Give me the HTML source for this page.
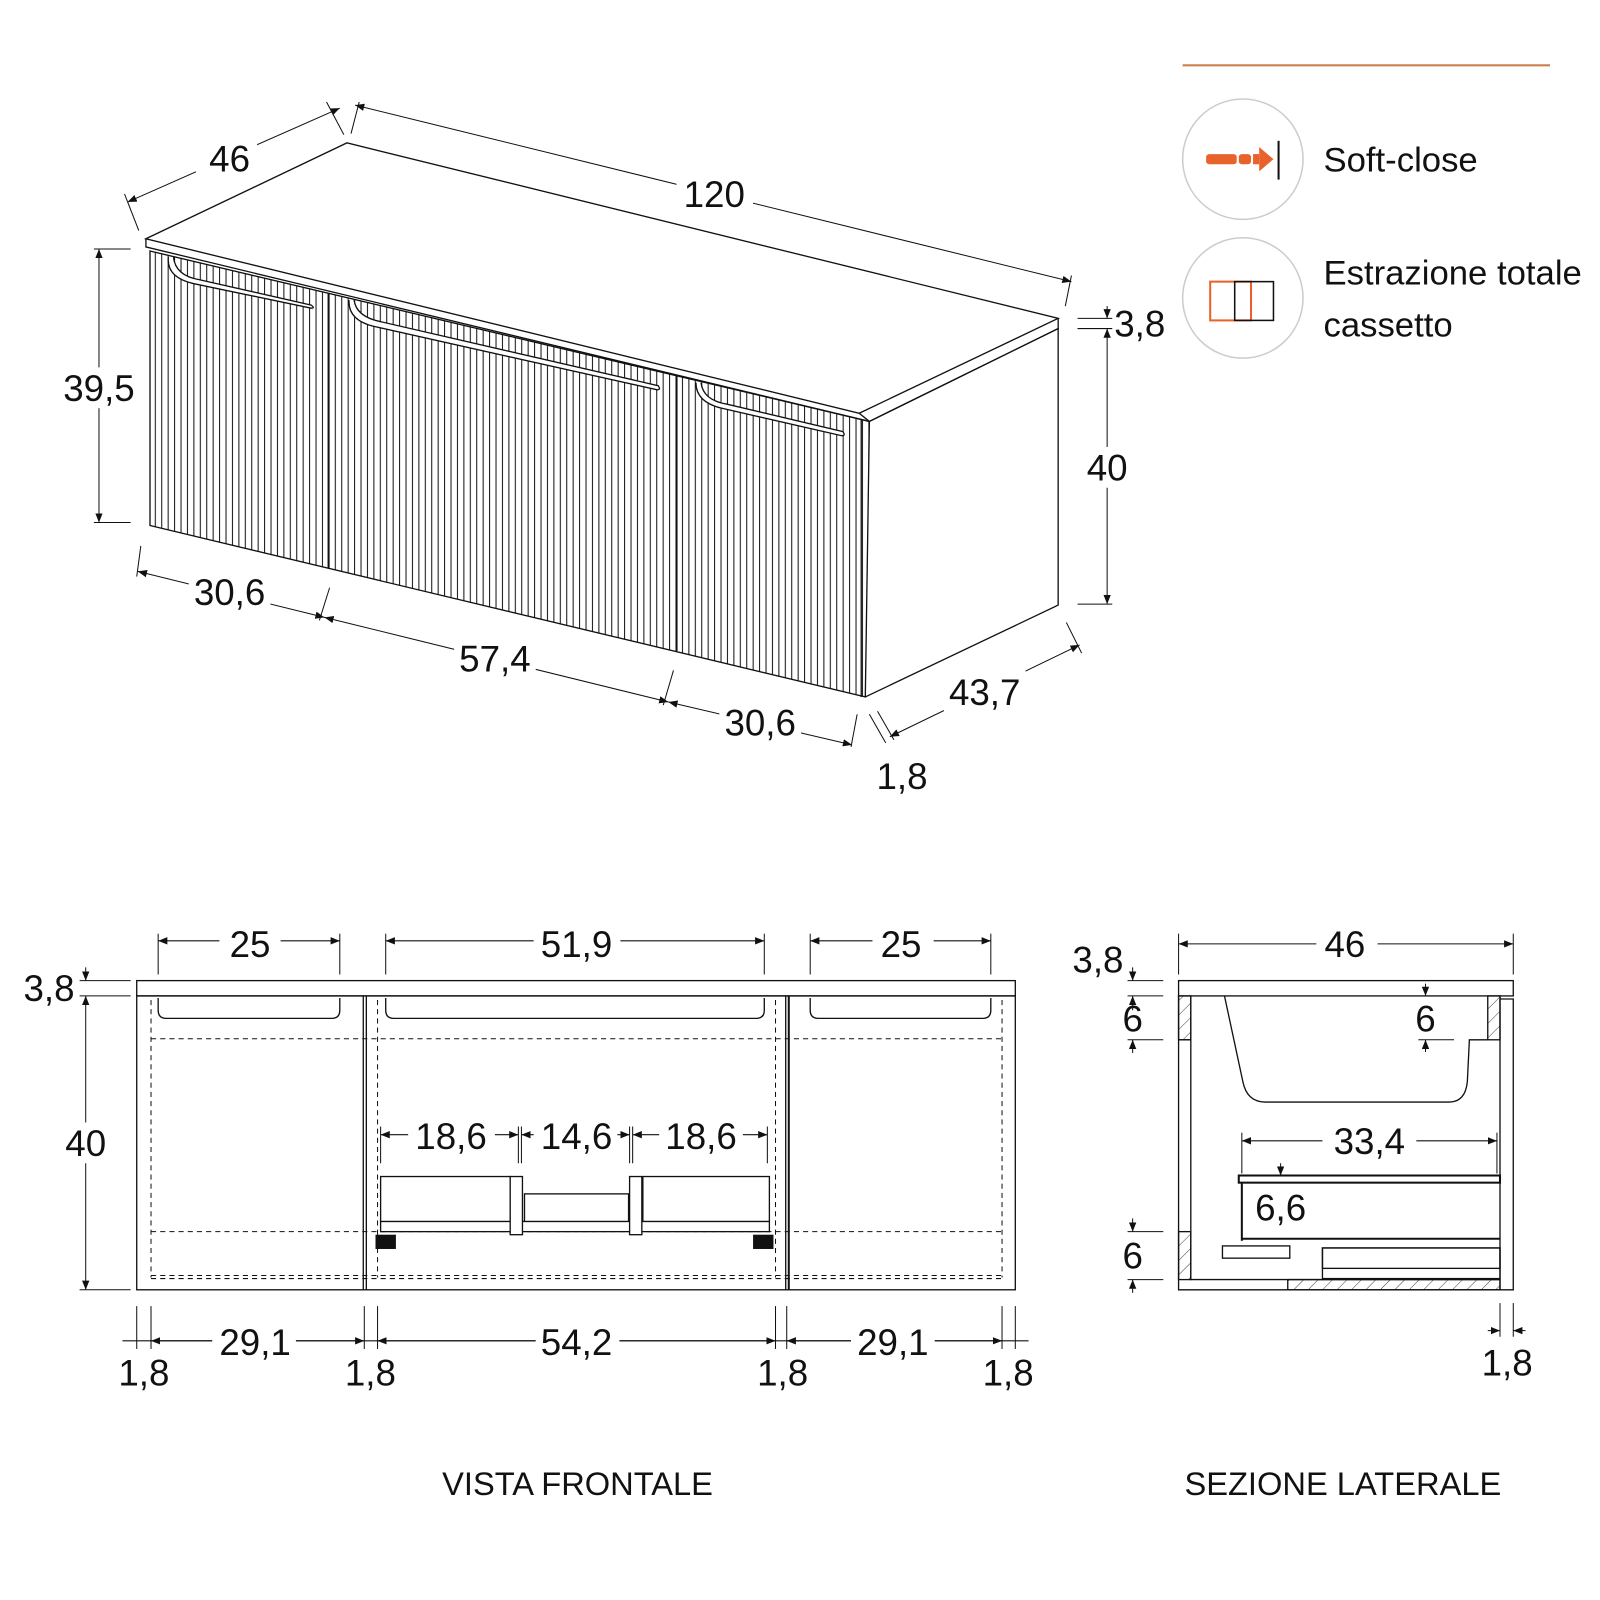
<!DOCTYPE html>
<html><head><meta charset="utf-8"><style>
html,body{margin:0;padding:0;background:#fff}
svg{display:block}
text{font-family:"Liberation Sans",sans-serif;fill:#111}
</style></head><body>
<svg width="1600" height="1600" viewBox="0 0 1568 1568" xmlns="http://www.w3.org/2000/svg">
<defs>
<marker id="a" viewBox="0 0 10 10" refX="10" refY="5" markerWidth="9" markerHeight="9" orient="auto-start-reverse" markerUnits="userSpaceOnUse"><path d="M0,1 L10,5 L0,9 z" fill="#111"/></marker>
<pattern id="fl" width="6.3" height="10" patternUnits="userSpaceOnUse"><line x1="1" y1="0" x2="1" y2="10" stroke="#111" stroke-width="1"/></pattern>
<pattern id="hat" width="10" height="10" patternUnits="userSpaceOnUse" patternTransform="rotate(45)"><line x1="0" y1="0" x2="0" y2="10" stroke="#111" stroke-width="0.8"/></pattern>
<clipPath id="front"><polygon points="147,246 852,413 848,683 147,515"/></clipPath>
</defs>
<g fill="none" stroke="#111" stroke-width="1.3">
<polygon points="143,234 340,140 1037,312 842,405" fill="#fff"/>
<polyline points="143,234 143,242 852,413 1037,322 1037,312"/>
<line x1="842" y1="405" x2="852" y2="413"/>
<rect x="140" y="240" width="720" height="450" fill="url(#fl)" clip-path="url(#front)" stroke="none"/>
<polygon points="147,246 852,413 848,683 147,515"/>
<polyline points="852,413 1037,322 1037,593 848,683"/>
<line x1="322" y1="287" x2="322" y2="557" stroke-width="2"/>
<line x1="663" y1="368" x2="663" y2="638" stroke-width="2"/>
<line x1="844" y1="411" x2="844" y2="683"/>
<path d="M170,252 Q172,270 195,274 L305,299 Q309,302 305,302 L190,278 Q163,272 165,252" fill="#fff"/>
<path d="M347,294 Q349,310 372,315 L645,378 Q648,382 644,382 L367,320 Q341,314 342,294" fill="#fff"/>
<path d="M687,375 Q689,392 712,396 L826,423 Q829,427 825,427 L707,400 Q682,394 682,375" fill="#fff"/>
</g>
<g stroke="#111" stroke-width="1" fill="none">
<line x1="125" y1="198" x2="333" y2="106" marker-start="url(#a)" marker-end="url(#a)"/>
<line x1="122" y1="190" x2="136" y2="226"/><line x1="320" y1="100" x2="337" y2="132"/>
<line x1="348" y1="103" x2="1050" y2="276" marker-start="url(#a)" marker-end="url(#a)"/>
<line x1="352" y1="100" x2="344" y2="131"/><line x1="1050" y1="270" x2="1044" y2="300"/>
<line x1="97" y1="244" x2="97" y2="512" marker-start="url(#a)" marker-end="url(#a)"/>
<line x1="92" y1="244" x2="128" y2="244"/><line x1="92" y1="512" x2="128" y2="512"/>
<line x1="1085" y1="322" x2="1085" y2="592" marker-start="url(#a)" marker-end="url(#a)"/>
<line x1="1056" y1="312" x2="1090" y2="312"/><line x1="1056" y1="322" x2="1090" y2="322"/><line x1="1056" y1="592" x2="1090" y2="592"/>
<line x1="1085" y1="300" x2="1085" y2="312" marker-end="url(#a)"/>
<line x1="135" y1="560" x2="318" y2="605" marker-start="url(#a)" marker-end="url(#a)"/>
<line x1="318" y1="605" x2="655" y2="688" marker-start="url(#a)" marker-end="url(#a)"/>
<line x1="655" y1="688" x2="835" y2="730" marker-start="url(#a)" marker-end="url(#a)"/>
<line x1="138" y1="535" x2="134" y2="565"/><line x1="323" y1="576" x2="313" y2="608"/><line x1="660" y1="657" x2="650" y2="691"/><line x1="840" y1="700" x2="834" y2="732"/>
<line x1="872" y1="722" x2="1058" y2="632" marker-start="url(#a)" marker-end="url(#a)"/>
<line x1="1045" y1="610" x2="1060" y2="640"/><line x1="852" y1="700" x2="868" y2="728"/><line x1="860" y1="697" x2="876" y2="725"/>
</g>
<g fill="#fff" stroke="none">
<rect x="192" y="135" width="60" height="40"/><rect x="663" y="170" width="75" height="42"/>
<rect x="185" y="562" width="80" height="40"/><rect x="445" y="625" width="80" height="40"/><rect x="705" y="688" width="80" height="40"/>
<rect x="60" y="360" width="76" height="40"/><rect x="1060" y="438" width="50" height="40"/>
<rect x="925" y="655" width="80" height="42"/>
</g>
<g font-size="36" text-anchor="middle">
<text x="225" y="168">46</text><text x="700" y="203">120</text>
<text x="97" y="393">39,5</text><text x="1117" y="330">3,8</text><text x="1085" y="471">40</text>
<text x="225" y="593">30,6</text><text x="485" y="658">57,4</text><text x="745" y="721">30,6</text>
<text x="965" y="691">43,7</text><text x="884" y="773">1,8</text>
</g>
<line x1="1159" y1="64" x2="1519" y2="64" stroke="#c8804f" stroke-width="2"/>
<circle cx="1218" cy="156" r="59" fill="none" stroke="#ccc" stroke-width="1.5"/>
<circle cx="1218" cy="292" r="59" fill="none" stroke="#ccc" stroke-width="1.5"/>
<g fill="#e8622c"><rect x="1182" y="151" width="30" height="10" rx="3"/><rect x="1214" y="151" width="12" height="10" rx="3"/><rect x="1228" y="151" width="6" height="10"/><path d="M1234,144 L1248,156 L1234,168z"/></g>
<line x1="1253" y1="138" x2="1253" y2="176" stroke="#111" stroke-width="2"/>
<rect x="1186" y="276" width="40" height="38" fill="none" stroke="#e8622c" stroke-width="2"/>
<rect x="1210" y="276" width="38" height="38" fill="none" stroke="#111" stroke-width="1.5"/>
<line x1="1210" y1="276" x2="1210" y2="314" stroke="#111" stroke-dasharray="3,3"/>
<g font-size="34"><text x="1297" y="168">Soft-close</text><text x="1297" y="279">Estrazione totale</text><text x="1297" y="330">cassetto</text></g>
<g fill="none" stroke="#111" stroke-width="1.3">
<rect x="134" y="961" width="861" height="15"/>
<rect x="134" y="976" width="861" height="288"/>
<line x1="356" y1="976" x2="356" y2="1264"/><line x1="359" y1="976" x2="359" y2="1264"/>
<line x1="770" y1="976" x2="770" y2="1264"/><line x1="773" y1="976" x2="773" y2="1264" stroke-width="2"/>
<path d="M155,978 L155,990 Q155,998 163,998 L325,998 Q333,998 333,990 L333,978"/>
<path d="M378,978 L378,990 Q378,998 386,998 L741,998 Q749,998 749,990 L749,978"/>
<path d="M794,978 L794,990 Q794,998 802,998 L963,998 Q971,998 971,990 L971,978"/>
</g>
<g fill="none" stroke="#111" stroke-width="1" stroke-dasharray="5,4">
<line x1="148" y1="980" x2="148" y2="1252"/><line x1="370" y1="980" x2="370" y2="1252"/><line x1="760" y1="980" x2="760" y2="1252"/><line x1="982" y1="980" x2="982" y2="1252"/>
<line x1="148" y1="1018" x2="982" y2="1018"/><line x1="148" y1="1207" x2="982" y2="1207"/>
<line x1="148" y1="1250" x2="982" y2="1250"/><line x1="148" y1="1253" x2="982" y2="1253"/>
</g>
<g fill="#fff" stroke="#111" stroke-width="1.3">
<rect x="373" y="1197" width="381" height="10"/>
<rect x="373" y="1153" width="127" height="44"/><rect x="630" y="1153" width="124" height="44"/>
<rect x="514" y="1170" width="102" height="27"/>
<rect x="500" y="1153" width="12" height="57"/><rect x="617" y="1153" width="12" height="57"/>
</g>
<rect x="368" y="1210" width="20" height="14" fill="#111"/><rect x="738" y="1210" width="20" height="14" fill="#111"/>
<g stroke="#111" stroke-width="1" fill="none">
<line x1="155" y1="922" x2="333" y2="922" marker-start="url(#a)" marker-end="url(#a)"/><line x1="155" y1="915" x2="155" y2="955"/><line x1="333" y1="915" x2="333" y2="955"/>
<line x1="378" y1="922" x2="749" y2="922" marker-start="url(#a)" marker-end="url(#a)"/><line x1="378" y1="915" x2="378" y2="955"/><line x1="749" y1="915" x2="749" y2="955"/>
<line x1="794" y1="922" x2="971" y2="922" marker-start="url(#a)" marker-end="url(#a)"/><line x1="794" y1="915" x2="794" y2="955"/><line x1="971" y1="915" x2="971" y2="955"/>
<line x1="84" y1="976" x2="84" y2="1264" marker-start="url(#a)" marker-end="url(#a)"/>
<line x1="84" y1="948" x2="84" y2="961" marker-end="url(#a)"/>
<line x1="78" y1="961" x2="128" y2="961"/><line x1="78" y1="976" x2="128" y2="976"/><line x1="78" y1="1264" x2="128" y2="1264"/>
<line x1="120" y1="1314" x2="1008" y2="1314"/>
<line x1="134" y1="1280" x2="134" y2="1322"/><line x1="148" y1="1280" x2="148" y2="1322"/><line x1="357" y1="1280" x2="357" y2="1322"/><line x1="370" y1="1280" x2="370" y2="1322"/>
<line x1="760" y1="1280" x2="760" y2="1322"/><line x1="771" y1="1280" x2="771" y2="1322"/><line x1="982" y1="1280" x2="982" y2="1322"/><line x1="995" y1="1280" x2="995" y2="1322"/>
<line x1="148" y1="1314" x2="357" y2="1314" marker-start="url(#a)" marker-end="url(#a)"/>
<line x1="370" y1="1314" x2="760" y2="1314" marker-start="url(#a)" marker-end="url(#a)"/>
<line x1="771" y1="1314" x2="982" y2="1314" marker-start="url(#a)" marker-end="url(#a)"/>
<line x1="373" y1="1112" x2="508" y2="1112" marker-start="url(#a)" marker-end="url(#a)"/>
<line x1="511" y1="1112" x2="617" y2="1112" marker-start="url(#a)" marker-end="url(#a)"/>
<line x1="620" y1="1112" x2="752" y2="1112" marker-start="url(#a)" marker-end="url(#a)"/>
<line x1="373" y1="1104" x2="373" y2="1140"/><line x1="508" y1="1104" x2="508" y2="1140"/><line x1="511" y1="1104" x2="511" y2="1140"/><line x1="617" y1="1104" x2="617" y2="1140"/><line x1="620" y1="1104" x2="620" y2="1140"/><line x1="752" y1="1104" x2="752" y2="1140"/>
</g>
<g fill="#fff">
<rect x="215" y="905" width="60" height="40"/><rect x="523" y="905" width="85" height="40"/><rect x="855" y="905" width="60" height="40"/>
<rect x="60" y="1100" width="50" height="40"/>
<rect x="208" y="1296" width="82" height="38"/><rect x="525" y="1296" width="82" height="38"/><rect x="834" y="1296" width="82" height="38"/>
<rect x="400" y="1094" width="85" height="38"/><rect x="523" y="1094" width="82" height="38"/><rect x="646" y="1094" width="82" height="38"/>
</g>
<g font-size="36" text-anchor="middle">
<text x="245" y="938">25</text><text x="565" y="938">51,9</text><text x="883" y="938">25</text>
<text x="48" y="981">3,8</text><text x="84" y="1133">40</text>
<text x="250" y="1328">29,1</text><text x="565" y="1328">54,2</text><text x="875" y="1328">29,1</text>
<text x="141" y="1358">1,8</text><text x="363" y="1358">1,8</text><text x="767" y="1358">1,8</text><text x="988" y="1358">1,8</text>
<text x="442" y="1126">18,6</text><text x="565" y="1126">14,6</text><text x="687" y="1126">18,6</text>
</g>
<g fill="none" stroke="#111" stroke-width="1.3">
<rect x="1155" y="961" width="328" height="15"/>
<polyline points="1155,976 1155,1264 1470,1264 1470,976"/>
<polyline points="1470,979 1483,979 1483,1264 1470,1264"/>
<polyline points="1167,976 1167,1254 1470,1254"/>
<rect x="1155" y="976" width="12" height="43" fill="url(#hat)"/>
<rect x="1155" y="1207" width="12" height="47" fill="url(#hat)"/>
<rect x="1458" y="976" width="12" height="43" fill="url(#hat)"/>
<rect x="1262" y="1254" width="208" height="10" fill="url(#hat)"/>
<path d="M1200,976 L1218,1060 Q1222,1080 1240,1080 L1420,1080 Q1436,1080 1438,1060 L1440,1019 L1458,1019"/>
<line x1="1167" y1="1019" x2="1155" y2="1019"/>
<rect x="1214" y="1152" width="256" height="7" stroke-width="2"/>
<line x1="1217" y1="1159" x2="1217" y2="1216" stroke-width="2"/>
<line x1="1217" y1="1214" x2="1470" y2="1214" stroke-width="2"/>
<rect x="1198" y="1221" width="66" height="12"/>
<rect x="1296" y="1223" width="174" height="30"/>
<rect x="1296" y="1223" width="174" height="20"/>
</g>
<g stroke="#111" stroke-width="1" fill="none">
<line x1="1155" y1="925" x2="1483" y2="925" marker-start="url(#a)" marker-end="url(#a)"/><line x1="1155" y1="915" x2="1155" y2="955"/><line x1="1483" y1="915" x2="1483" y2="955"/>
<line x1="1105" y1="961" x2="1140" y2="961"/><line x1="1105" y1="976" x2="1140" y2="976"/><line x1="1105" y1="1019" x2="1140" y2="1019"/>
<line x1="1105" y1="1207" x2="1140" y2="1207"/><line x1="1105" y1="1254" x2="1140" y2="1254"/>
<line x1="1110" y1="948" x2="1110" y2="961" marker-end="url(#a)"/><line x1="1110" y1="990" x2="1110" y2="976" marker-end="url(#a)"/>
<line x1="1110" y1="1032" x2="1110" y2="1019" marker-end="url(#a)"/>
<line x1="1110" y1="1194" x2="1110" y2="1207" marker-end="url(#a)"/><line x1="1110" y1="1267" x2="1110" y2="1254" marker-end="url(#a)"/>
<line x1="1397" y1="964" x2="1397" y2="976" marker-end="url(#a)"/><line x1="1397" y1="1031" x2="1397" y2="1019" marker-end="url(#a)"/><line x1="1390" y1="1019" x2="1425" y2="1019"/>
<line x1="1217" y1="1118" x2="1467" y2="1118" marker-start="url(#a)" marker-end="url(#a)"/><line x1="1217" y1="1110" x2="1217" y2="1150"/><line x1="1467" y1="1110" x2="1467" y2="1150"/>
<line x1="1255" y1="1140" x2="1255" y2="1152" marker-end="url(#a)"/>
<line x1="1470" y1="1277" x2="1470" y2="1310"/><line x1="1483" y1="1277" x2="1483" y2="1310"/>
<line x1="1458" y1="1304" x2="1470" y2="1304" marker-end="url(#a)"/><line x1="1495" y1="1304" x2="1483" y2="1304" marker-end="url(#a)"/>
</g>
<g fill="#fff"><rect x="1296" y="1100" width="92" height="38"/><rect x="1290" y="905" width="60" height="40"/></g>
<g font-size="36" text-anchor="middle">
<text x="1318" y="938">46</text><text x="1076" y="953">3,8</text><text x="1110" y="1011">6</text><text x="1397" y="1011">6</text>
<text x="1342" y="1131">33,4</text><text x="1255" y="1196">6,6</text><text x="1110" y="1243">6</text><text x="1477" y="1348">1,8</text>
</g>
<g font-size="32" text-anchor="middle"><text x="566" y="1465">VISTA FRONTALE</text><text x="1316" y="1465">SEZIONE LATERALE</text></g>
</svg>
</body></html>
